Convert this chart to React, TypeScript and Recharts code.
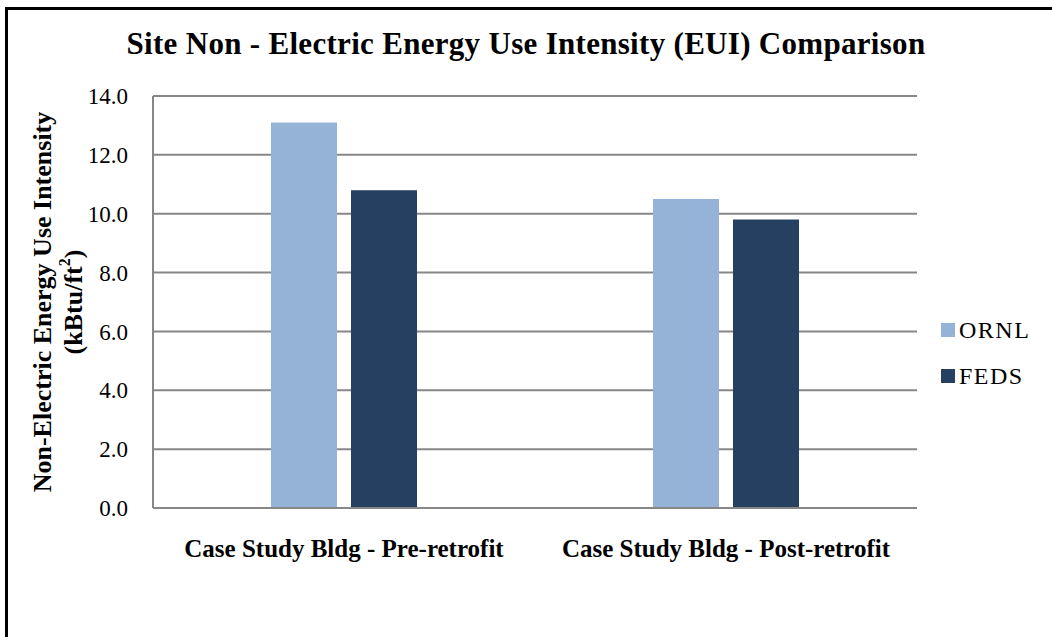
import React from 'react';
import { BarChart, Bar, XAxis, YAxis, CartesianGrid, Legend } from 'recharts';

const categories = ['Case Study Bldg - Pre-retrofit', 'Case Study Bldg - Post-retrofit'];
const ornlValues = [13.1, 10.5];
const fedsValues = [10.8, 9.8];
const yTicks = [0, 2, 4, 6, 8, 10, 12, 14];
const seriesOrder = ['ORNL', 'FEDS'];

const data = categories.map((name, i) => ({ name, ORNL: ornlValues[i], FEDS: fedsValues[i] }));

const SERIF = '"Liberation Serif", "DejaVu Serif", serif';
const GRID = '#878787';

const YLabel = (props: any) => {
  const vb = props.viewBox || {};
  const cy = vb.y + vb.height / 2;
  return (
    <g>
      <text x={42} y={cy} transform={`rotate(-90, 42, ${cy})`} textAnchor="middle" dominantBaseline="central"
        fontFamily={SERIF} fontWeight="bold" fontSize={26} fill="#000">
        Non-Electric Energy Use Intensity
      </text>
      <text x={73} y={cy} transform={`rotate(-90, 73, ${cy})`} textAnchor="middle" dominantBaseline="central"
        fontFamily={SERIF} fontWeight="bold" fontSize={26} fill="#000">
        (kBtu/ft<tspan dy={-9} fontSize={16}>2</tspan><tspan dy={9}>)</tspan>
      </text>
    </g>
  );
};

// legend keeps the series order, not alphabetical
const LegendContent = (props: any) => {
  const items = [...(props.payload || [])].sort(
    (a: any, b: any) => seriesOrder.indexOf(a.value) - seriesOrder.indexOf(b.value)
  );
  return (
    <div style={{ fontFamily: SERIF, fontSize: 24, lineHeight: '24px', color: '#000', letterSpacing: 1.5 }}>
      {items.map((p: any) => (
        <div key={p.value} style={{ display: 'flex', alignItems: 'center', height: 24, marginBottom: 22 }}>
          <span style={{ display: 'inline-block', width: 14, height: 14, background: p.color, marginRight: 4 }} />
          <span>{p.value}</span>
        </div>
      ))}
    </div>
  );
};

export default function App() {
  return (
    <div style={{ position: 'absolute', left: 0, top: 0, width: 1052, height: 637, background: '#fff' }}>
      <div style={{ position: 'absolute', left: 5, top: 7, right: 0, bottom: 0, borderLeft: '3px solid #000', borderTop: '3px solid #000' }} />
      <div style={{ position: 'absolute', left: 0, top: 28, width: 1052, textAlign: 'center', fontFamily: SERIF, fontWeight: 'bold', fontSize: 31, lineHeight: '31px', letterSpacing: 0.3, color: '#000' }}>
        Site Non - Electric Energy Use Intensity (EUI) Comparison
      </div>
      <BarChart
        width={1052}
        height={637}
        data={data}
        margin={{ top: 96, right: 135, bottom: 69, left: 93 }}
        barSize={66}
        barGap={14}
        style={{ position: 'absolute', left: 0, top: 0 }}
      >
        <CartesianGrid vertical={false} stroke={GRID} strokeWidth={2} />
        <XAxis
          dataKey="name"
          height={60}
          axisLine={{ stroke: GRID, strokeWidth: 2 }}
          tickLine={false}
          tickMargin={25}
          tick={{ fontFamily: SERIF, fontWeight: 'bold', fontSize: 25, fill: '#000' }}
        />
        <YAxis
          width={60}
          domain={[0, 14]}
          ticks={yTicks}
          interval={0}
          tickFormatter={(v: number) => v.toFixed(1)}
          axisLine={{ stroke: GRID, strokeWidth: 2 }}
          tickLine={false}
          tickSize={0}
          tickMargin={25}
          tick={{ fontFamily: SERIF, fontSize: 23, fill: '#000' }}
          label={{ content: YLabel }}
        />
        <Legend
          layout="vertical"
          align="center"
          verticalAlign="middle"
          content={LegendContent}
          wrapperStyle={{ position: 'absolute', left: 941, top: 318, width: 110 }}
        />
        <Bar dataKey="ORNL" fill="#95B3D7" isAnimationActive={false} />
        <Bar dataKey="FEDS" fill="#254061" isAnimationActive={false} />
      </BarChart>
    </div>
  );
}
